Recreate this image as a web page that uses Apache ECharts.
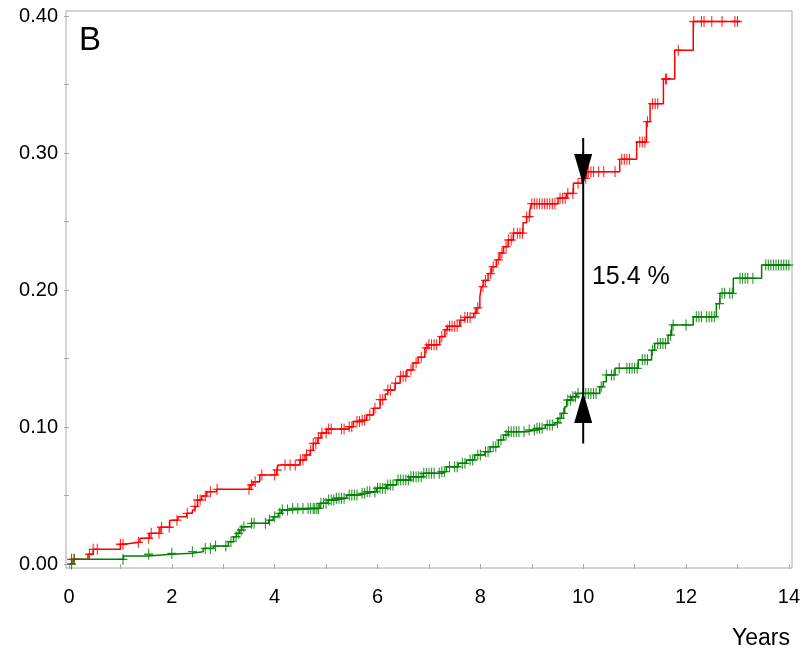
<!DOCTYPE html>
<html>
<head>
<meta charset="utf-8">
<script src="https://cdn.jsdelivr.net/npm/echarts@6/dist/echarts.min.js"></script>
<style>
html,body{margin:0;padding:0;background:#fff;}
#c{width:803px;height:649px;}
</style>
</head>
<body>
<div id="c"></div>
<script>
// ---- Data ----
const redTimes = [0,0.05,0.37,0.47,1.0,1.06,1.38,1.57,1.77,1.96,2.12,2.29,2.4,2.45,2.5,2.58,2.68,2.87,3.52,3.58,3.71,4.04,4.07,4.49,4.59,4.69,4.75,4.84,4.9,5.01,5.45,5.53,5.66,5.79,5.92,6.05,6.15,6.2,6.34,6.44,6.57,6.69,6.79,6.92,6.98,7.21,7.31,7.36,7.6,7.7,7.87,7.92,7.99,8.02,8.06,8.15,8.22,8.31,8.38,8.45,8.54,8.64,8.83,8.9,8.96,8.99,9.51,9.68,9.81,9.97,10.07,10.71,11.04,11.23,11.3,11.56,11.78,12.14];
const redValues = [0,0.0034,0.0071,0.0107,0.0144,0.0158,0.0188,0.0224,0.0268,0.032,0.0345,0.037,0.0394,0.042,0.0467,0.0496,0.0528,0.0545,0.0577,0.060,0.065,0.0686,0.0723,0.0759,0.0796,0.083,0.088,0.092,0.0956,0.0985,0.1002,0.104,0.105,0.1088,0.1136,0.120,0.124,0.127,0.132,0.137,0.1416,0.1467,0.151,0.1577,0.160,0.166,0.171,0.1735,0.178,0.180,0.183,0.187,0.195,0.2025,0.207,0.212,0.217,0.222,0.227,0.2316,0.2365,0.2415,0.249,0.2535,0.258,0.263,0.267,0.2705,0.278,0.2815,0.2864,0.2954,0.308,0.3229,0.336,0.354,0.375,0.396];
const redEnd = 13.05;
const redCensor = [0.05,0.1,0.4,0.47,0.55,1.0,1.05,1.35,1.55,1.6,1.75,1.8,1.95,2.1,2.3,2.45,2.5,2.55,2.65,2.75,2.88,3.5,3.55,3.62,3.75,4.0,4.05,4.2,4.3,4.4,4.5,4.55,4.62,4.7,4.75,4.8,4.85,4.92,5.0,5.05,5.1,5.3,5.35,5.45,5.5,5.6,5.65,5.7,5.75,5.85,5.95,6.05,6.1,6.2,6.25,6.35,6.45,6.5,6.55,6.65,6.75,6.85,6.95,7.0,7.05,7.1,7.15,7.25,7.35,7.4,7.45,7.5,7.55,7.62,7.7,7.75,7.8,7.9,7.95,8.05,8.1,8.2,8.25,8.35,8.42,8.5,8.55,8.6,8.65,8.72,8.77,8.82,8.9,8.95,9.0,9.05,9.1,9.15,9.2,9.25,9.3,9.35,9.4,9.45,9.55,9.6,9.65,9.7,9.8,9.9,10.0,10.05,10.1,10.15,10.2,10.3,10.4,10.62,10.75,10.8,10.85,10.9,11.1,11.15,11.2,11.25,11.35,11.4,11.45,11.6,11.62,11.85,12.15,12.3,12.35,12.5,12.7,12.95,13.0];

const greenTimes = [0,0.08,1.06,1.54,2.0,2.39,2.61,2.81,3.1,3.2,3.26,3.32,3.36,3.55,3.88,3.97,4.07,4.13,4.3,4.88,5.04,5.2,5.4,5.66,5.79,5.98,6.18,6.37,6.63,6.89,7.25,7.34,7.57,7.73,7.89,8.09,8.19,8.35,8.45,8.54,8.9,9.09,9.26,9.45,9.51,9.58,9.64,9.68,9.77,9.87,10.32,10.39,10.45,10.62,11.07,11.33,11.39,11.65,11.72,12.14,12.59,12.66,12.92,13.47];
const greenValues = [0,0.0034,0.0058,0.0071,0.0078,0.009,0.0114,0.0131,0.0163,0.0199,0.0224,0.0248,0.0272,0.0297,0.032,0.0345,0.037,0.0394,0.0406,0.0443,0.0467,0.048,0.0504,0.0516,0.0528,0.0553,0.0577,0.0613,0.0637,0.0662,0.0674,0.071,0.0735,0.0759,0.0796,0.082,0.0856,0.0905,0.0942,0.0966,0.0978,0.099,0.1015,0.1031,0.1063,0.11,0.1148,0.1197,0.1221,0.1245,0.1294,0.133,0.138,0.1428,0.149,0.156,0.161,0.167,0.1745,0.1805,0.190,0.1976,0.2085,0.2182];
const greenEnd = 14.02;
const greenCensor = [0.05,0.1,1.05,1.55,2.0,2.4,2.65,2.75,2.85,3.05,3.15,3.25,3.3,3.35,3.4,3.55,3.6,3.82,3.9,4.0,4.1,4.15,4.25,4.35,4.45,4.55,4.65,4.7,4.75,4.78,4.82,4.85,4.9,4.95,5.0,5.05,5.1,5.15,5.2,5.25,5.3,5.35,5.45,5.5,5.55,5.6,5.7,5.75,5.8,5.85,5.95,6.0,6.05,6.1,6.15,6.2,6.25,6.3,6.4,6.45,6.5,6.55,6.6,6.65,6.7,6.75,6.8,6.85,6.9,6.95,7.0,7.05,7.1,7.2,7.25,7.3,7.4,7.5,7.55,7.65,7.7,7.8,7.85,7.95,8.0,8.1,8.15,8.25,8.3,8.4,8.5,8.55,8.6,8.65,8.7,8.75,8.85,8.95,9.05,9.1,9.15,9.2,9.3,9.35,9.4,9.5,9.55,9.62,9.7,9.75,9.8,9.85,9.9,10.0,10.05,10.1,10.15,10.2,10.25,10.35,10.45,10.55,10.6,10.7,10.85,10.9,10.95,11.0,11.05,11.15,11.2,11.25,11.35,11.45,11.5,11.55,11.6,11.7,11.75,12.0,12.2,12.25,12.3,12.4,12.45,12.5,12.55,12.65,12.7,12.75,12.85,12.9,13.05,13.1,13.15,13.2,13.3,13.55,13.6,13.65,13.7,13.75,13.8,13.85,13.9,13.95,14.0];

// difference annotation at year 10
const arrowX = 10;
const arrowTop = 0.311;
const arrowBottom = 0.088;
const upperTip = 0.2766;
const lowerTip = 0.1255;
const diffLabel = '15.4 %';
const diffLabelPos = [10.17, 0.2095];

const panelLabel = 'B';
const xAxisTitle = 'Years';

// ---- Helpers ----
function stepPoints(times, values, end) {
  const pts = [];
  for (let i = 0; i < times.length; i++) {
    if (i > 0) pts.push([times[i], values[i - 1]]);
    pts.push([times[i], values[i]]);
  }
  pts.push([end, values[values.length - 1]]);
  return pts;
}
function valueAt(times, values, t) {
  let v = values[0];
  for (let i = 0; i < times.length; i++) { if (times[i] <= t) v = values[i]; }
  return v;
}
function censorPoints(times, values, cens) {
  return cens.map(t => [t, valueAt(times, values, t)]);
}

const plus = 'path://M0,4.4h10v1.2h-10z M4.4,0h1.2v10h-1.2z';
const FONT = 'Liberation Sans, Arial, sans-serif';
const AX = '#a9a9a9';

const chart = echarts.init(document.getElementById('c'), null, {renderer: 'canvas'});
chart.setOption({
  animation: false,
  backgroundColor: '#fff',
  grid: [
    {left: 69, right: 14, top: 16, bottom: 85},
    {left: 66, right: 11, top: 11, bottom: 81, show: true, borderColor: AX, borderWidth: 1, backgroundColor: 'transparent', z: 0}
  ],
  xAxis: [
    {type: 'value', gridIndex: 0, min: 0, max: 14, interval: 1, offset: 4,
     axisLine: {show: false}, splitLine: {show: false},
     axisTick: {show: true, length: 5, lineStyle: {color: AX}},
     axisLabel: {margin: 19, fontSize: 20, fontFamily: FONT, color: '#000',
       formatter: v => (Math.round(v) % 2 === 0 ? String(Math.round(v)) : '')}},
    {type: 'value', gridIndex: 1, show: false, min: 0, max: 1}
  ],
  yAxis: [
    {type: 'value', gridIndex: 0, min: 0, max: 0.4, interval: 0.05, offset: 3,
     axisLine: {show: false}, splitLine: {show: false},
     axisTick: {show: true, length: 5, lineStyle: {color: AX}},
     axisLabel: {margin: 8, fontSize: 20, fontFamily: FONT, color: '#000',
       formatter: v => (Math.round(v * 100) % 10 === 0 ? v.toFixed(2) : '')}},
    {type: 'value', gridIndex: 1, show: false, min: 0, max: 1}
  ],
  graphic: [
    {type: 'text', left: 79, top: 24, style: {text: panelLabel, font: '33px ' + FONT, fill: '#000'}},
    {type: 'text', right: 13, top: 627, style: {text: xAxisTitle, font: '23px ' + FONT, fill: '#000'}}
  ],
  series: [
    {type: 'line', xAxisIndex: 0, yAxisIndex: 0, data: stepPoints(redTimes, redValues, redEnd),
     showSymbol: false, symbol: 'none', lineStyle: {color: '#ff0000', width: 1.5}, z: 3},
    {type: 'line', xAxisIndex: 0, yAxisIndex: 0, data: stepPoints(greenTimes, greenValues, greenEnd),
     showSymbol: false, symbol: 'none', lineStyle: {color: '#008000', width: 1.5}, z: 3},
    {type: 'scatter', xAxisIndex: 0, yAxisIndex: 0, data: censorPoints(redTimes, redValues, redCensor),
     symbol: plus, symbolSize: [9, 11], itemStyle: {color: '#ff0000', opacity: 0.85}, z: 4},
    {type: 'scatter', xAxisIndex: 0, yAxisIndex: 0, data: censorPoints(greenTimes, greenValues, greenCensor),
     symbol: plus, symbolSize: [9, 11], itemStyle: {color: '#008000', opacity: 0.85}, z: 4},
    {type: 'custom', xAxisIndex: 0, yAxisIndex: 0, data: [[arrowX, arrowTop]], z: 5,
     renderItem: function (params, api) {
       const top = api.coord([arrowX, arrowTop]);
       const bot = api.coord([arrowX, arrowBottom]);
       const ut = api.coord([arrowX, upperTip]);
       const lt = api.coord([arrowX, lowerTip]);
       const lab = api.coord(diffLabelPos);
       const hw = 9, hh = 31;
       return {type: 'group', children: [
         {type: 'line', shape: {x1: top[0], y1: top[1], x2: bot[0], y2: bot[1]}, style: {stroke: '#000', lineWidth: 2}},
         {type: 'polygon', shape: {points: [[ut[0], ut[1]], [ut[0] - hw, ut[1] - hh], [ut[0] + hw, ut[1] - hh]]}, style: {fill: '#000'}},
         {type: 'polygon', shape: {points: [[lt[0], lt[1]], [lt[0] - hw, lt[1] + hh], [lt[0] + hw, lt[1] + hh]]}, style: {fill: '#000'}},
         {type: 'text', style: {text: diffLabel, x: lab[0], y: lab[1], font: '25px ' + FONT, fill: '#000', verticalAlign: 'middle', align: 'left'}}
       ]};
     }}
  ]
});
</script>
</body>
</html>
